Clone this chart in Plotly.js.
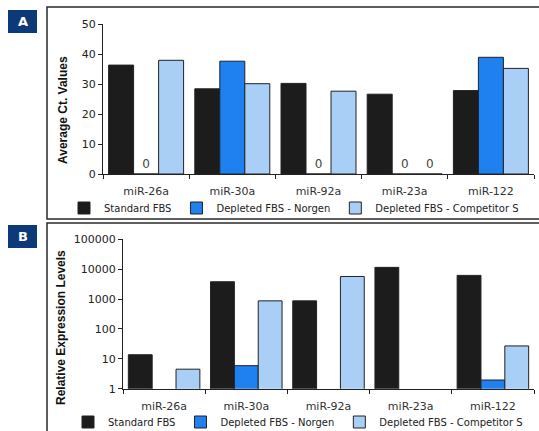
<!DOCTYPE html>
<html>
<head>
<meta charset="utf-8">
<script src="https://cdn.plot.ly/plotly-3.0.1.min.js"></script>
<style>html,body{margin:0;padding:0;background:#fff;}#chart{width:539px;height:431px;}</style>
</head>
<body>
<div id="chart"></div>
<script>
// ---- Data ----
const categories = ["miR-26a", "miR-30a", "miR-92a", "miR-23a", "miR-122"];
const seriesNames = ["Standard FBS", "Depleted FBS - Norgen", "Depleted FBS - Competitor S"];

// Panel A: Average Ct values
const ctStandard = [36.3, 28.4, 30.2, 26.6, 27.8];
const ctNorgen = [0, 37.6, 0, 0, 38.9];
const ctCompetitor = [37.9, 30.1, 27.6, 0, 35.2];

// Panel B: Relative expression levels (log scale)
const relStandard = [13.7, 3800, 870, 11500, 6200];
const relNorgen = [null, 5.9, null, null, 1.95];
const relCompetitor = [4.5, 870, 5700, null, 27];

const yTicksB = [1, 10, 100, 1000, 10000, 100000];

const colors = ["#1c1c1c", "#1f80f0", "#a9cff7"];

// ---- Build ----
const W = 539, H = 431;
const px = v => v / W;
const py = v => (H - v) / H;

const font = "DejaVu Sans, sans-serif";
const zeroText = arr => arr.map(v => v === 0 ? "0" : "");

const seriesA = [ctStandard, ctNorgen, ctCompetitor];
const seriesB = [relStandard, relNorgen, relCompetitor];

const traces = [];
seriesA.forEach((vals, i) => {
  traces.push({
    type: "bar", x: categories, y: vals, name: seriesNames[i],
    xaxis: "x", yaxis: "y", legend: "legend",
    marker: {color: colors[i], line: {color: "#222", width: 1}},
    text: zeroText(vals), textposition: "outside", cliponaxis: false,
    textfont: {family: font, size: 12, color: "#444"},
    hoverinfo: "x+y+name"
  });
});
seriesB.forEach((vals, i) => {
  traces.push({
    type: "bar", x: categories, y: vals, name: seriesNames[i],
    xaxis: "x2", yaxis: "y2", legend: "legend2",
    marker: {color: colors[i], line: {color: "#222", width: 1}},
    hoverinfo: "x+y+name"
  });
});

const tickFont = {family: font, size: 11, color: "#222"};
const catFont = {family: font, size: 11, color: "#333"};
const titleFont = {family: "Liberation Sans, Arial, sans-serif", size: 12, color: "#111", weight: "bold"};

const xCommon = {
  type: "category", showline: true, linecolor: "#222", linewidth: 1,
  ticks: "outside", tickson: "boundaries", ticklen: 4, tickcolor: "#222",
  tickfont: catFont, ticklabelstandoff: 7, showgrid: false, zeroline: false, fixedrange: true,
  automargin: false
};

const legendCommon = {
  orientation: "h", xanchor: "left",
  font: {family: font, size: 10, color: "#222"},
  bgcolor: "rgba(0,0,0,0)", itemwidth: 30, tracegroupgap: 0,
  itemclick: false, itemdoubleclick: false
};

const layout = {
  width: W, height: H,
  margin: {l: 0, r: 0, t: 0, b: 0, autoexpand: false},
  paper_bgcolor: "#fff", plot_bgcolor: "rgba(0,0,0,0)",
  barmode: "group", bargap: 0.13, bargroupgap: 0,
  showlegend: true,
  xaxis: Object.assign({}, xCommon, {domain: [px(103), px(534)], anchor: "y"}),
  yaxis: {
    domain: [py(174), py(24)], anchor: "x", range: [0, 50], dtick: 10,
    showline: true, linecolor: "#222", linewidth: 1, ticks: "outside", ticklen: 4, tickcolor: "#222",
    tickfont: tickFont, showgrid: false, zeroline: false, fixedrange: true, automargin: false
  },
  xaxis2: Object.assign({}, xCommon, {domain: [px(123), px(534)], anchor: "y2"}),
  yaxis2: {
    domain: [py(388.7), py(239.3)], anchor: "x2", type: "log", range: [0, 5],
    tickvals: yTicksB, ticktext: yTicksB.map(String),
    showline: true, linecolor: "#222", linewidth: 1, ticks: "outside", ticklen: 4, tickcolor: "#222",
    tickfont: tickFont, showgrid: false, zeroline: false, fixedrange: true, automargin: false
  },
  legend: Object.assign({}, legendCommon, {x: px(64), y: py(208), yanchor: "middle"}),
  legend2: Object.assign({}, legendCommon, {x: px(68), y: py(422), yanchor: "middle"}),
  shapes: [
    {type: "rect", xref: "paper", yref: "paper", x0: px(47), x1: 1.02, y0: py(219), y1: py(7),
     line: {color: "#2a2a2a", width: 1.5}, fillcolor: "rgba(0,0,0,0)", layer: "below"},
    {type: "rect", xref: "paper", yref: "paper", x0: px(47), x1: 1.02, y0: py(440), y1: py(223),
     line: {color: "#2a2a2a", width: 1.5}, fillcolor: "rgba(0,0,0,0)", layer: "below"},
    {type: "rect", xref: "paper", yref: "paper", x0: px(8), x1: px(37), y0: py(33), y1: py(10),
     line: {width: 0}, fillcolor: "#0c3a78"},
    {type: "rect", xref: "paper", yref: "paper", x0: px(8), x1: px(37), y0: py(248), y1: py(225),
     line: {width: 0}, fillcolor: "#0c3a78"}
  ],
  annotations: [
    {xref: "paper", yref: "paper", x: px(22.5), y: py(21.5), text: "<b>A</b>", showarrow: false,
     font: {family: font, size: 13, color: "#fff"}, xanchor: "center", yanchor: "middle"},
    {xref: "paper", yref: "paper", x: px(22.5), y: py(236.5), text: "<b>B</b>", showarrow: false,
     font: {family: font, size: 13, color: "#fff"}, xanchor: "center", yanchor: "middle"},
    {xref: "paper", yref: "paper", x: px(63), y: py(110), text: "<b>Average Ct. Values</b>", showarrow: false,
     textangle: -90, font: titleFont, xanchor: "center", yanchor: "middle"},
    {xref: "paper", yref: "paper", x: px(61), y: py(328), text: "<b>Relative Expression Levels</b>", showarrow: false,
     textangle: -90, font: titleFont, xanchor: "center", yanchor: "middle"}
  ]
};

Plotly.newPlot("chart", traces, layout, {displayModeBar: false, staticPlot: true});
</script>
</body>
</html>
